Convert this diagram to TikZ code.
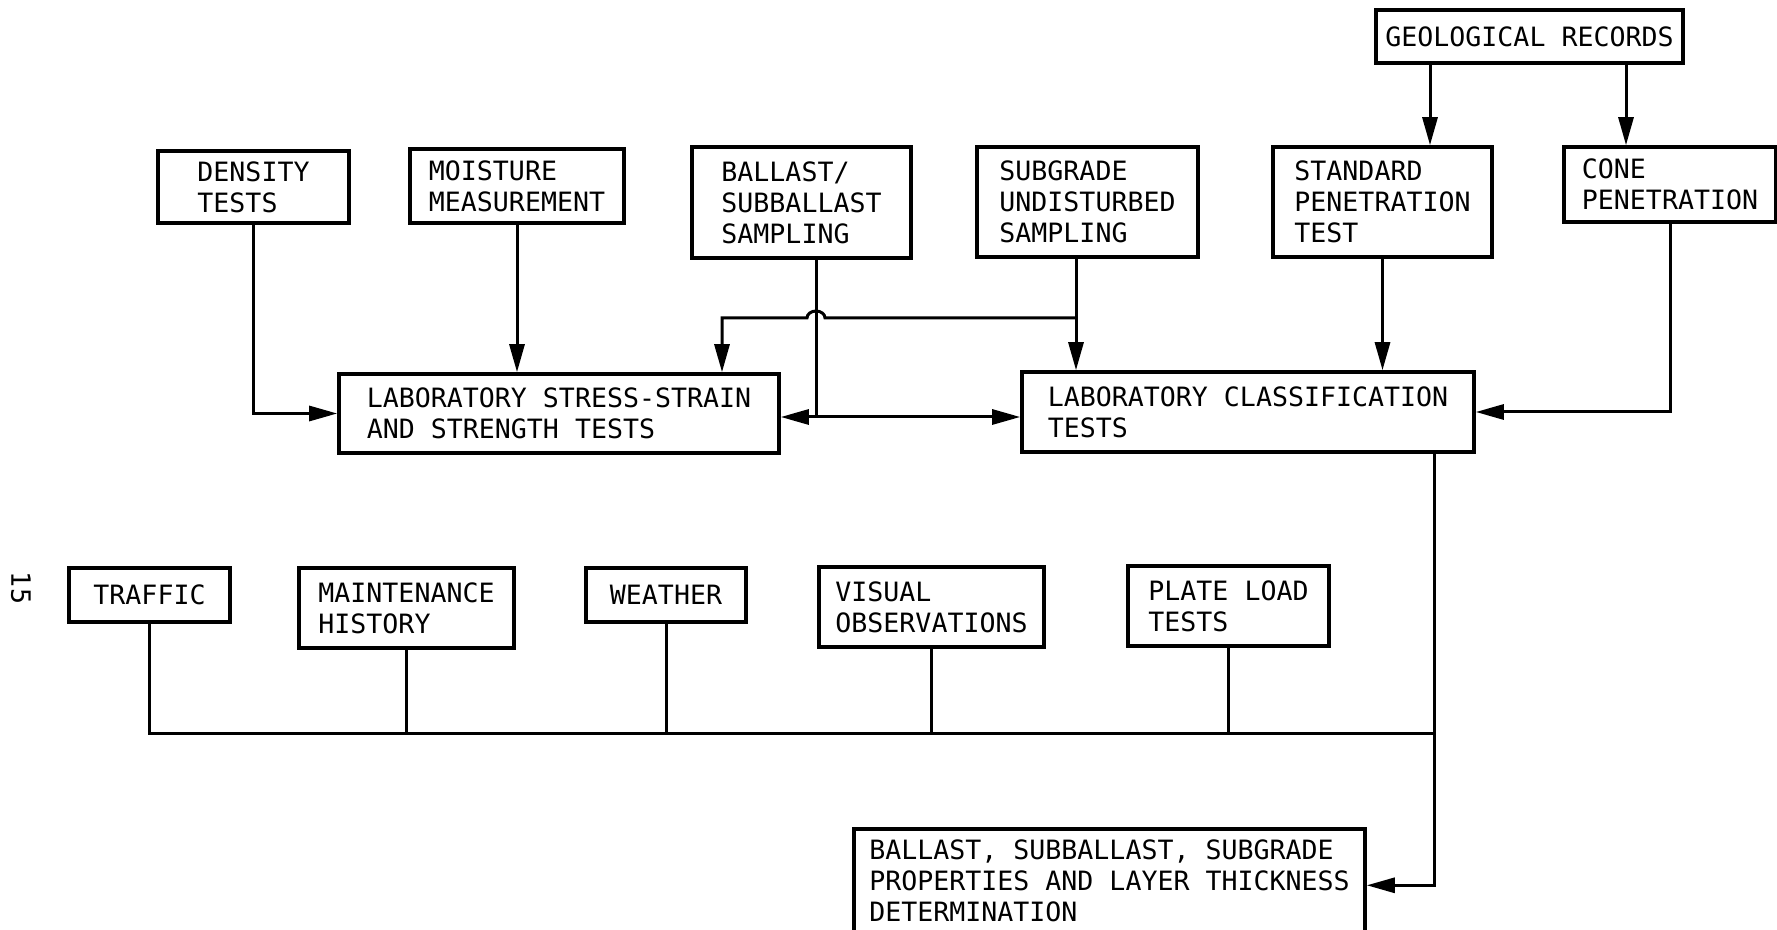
\documentclass[tikz,border=0pt]{standalone}
\usepackage{fontspec}
\setmainfont{DejaVu Sans Mono}
\usetikzlibrary{arrows.meta,calc}
\begin{document}
\begin{tikzpicture}[x=0.5pt,y=-0.5pt,
  box/.style={draw, line width=1.8pt, inner sep=2pt, align=left,
    font=\fontsize{13.3pt}{15.5pt}\selectfont},
  conn/.style={line width=1.5pt},
  arr/.style={conn, -{Triangle[length=14pt,width=7.5pt]}}]
\useasboundingbox (0,0) rectangle (1777,930);
\fill[white] (0,0) rectangle (1777,930);
\clip (0,0) rectangle (1777,930);

\node[box, minimum width=95.5pt, minimum height=36pt] (density) at (253.5,187) {DENSITY\\TESTS};
\node[box, minimum width=107pt, minimum height=37pt] (moisture) at (517,186) {MOISTURE\\MEASUREMENT};
\node[box, minimum width=109.5pt, minimum height=55.5pt] (ballast) at (801.5,202.5) {BALLAST/\\SUBBALLAST\\SAMPLING};
\node[box, minimum width=110.5pt, minimum height=55pt] (subgrade) at (1087.5,202) {SUBGRADE\\UNDISTURBED\\SAMPLING};
\node[box, minimum width=153.5pt, minimum height=26.5pt] (geo) at (1529.5,36.5) {GEOLOGICAL RECORDS};
\node[box, minimum width=109.5pt, minimum height=55pt] (standard) at (1382.5,202) {STANDARD\\PENETRATION\\TEST};
\node[box, minimum width=106pt, minimum height=37.5pt] (cone) at (1670,184.5) {CONE\\PENETRATION};
\node[box, minimum width=220pt, minimum height=39.5pt] (labss) at (559,413.5) {LABORATORY STRESS-STRAIN\\AND STRENGTH TESTS};
\node[box, minimum width=226pt, minimum height=40pt] (labcl) at (1248,412) {LABORATORY CLASSIFICATION\\TESTS};
\node[box, minimum width=80.5pt, minimum height=27pt] (traffic) at (149.5,595) {TRAFFIC};
\node[box, minimum width=107.5pt, minimum height=40pt] (maint) at (406.5,608) {MAINTENANCE\\HISTORY};
\node[box, minimum width=80pt, minimum height=27pt] (weather) at (666,595) {WEATHER};
\node[box, minimum width=112.5pt, minimum height=40pt] (visual) at (931.5,607) {VISUAL\\OBSERVATIONS};
\node[box, minimum width=100.5pt, minimum height=40pt] (plate) at (1228.5,606) {PLATE LOAD\\TESTS};
\node[box, minimum width=255.5pt, minimum height=56.5pt, text depth=5pt, anchor=north] (final) at (1109.5,827) {BALLAST, SUBBALLAST, SUBGRADE\\PROPERTIES AND LAYER THICKNESS\\DETERMINATION};
\node[font=\fontsize{13.3pt}{15.5pt}\selectfont, rotate=-90] (pg) at (21,588) {15};

\coordinate (bj) at (816,417);
\coordinate (sj) at (1076,318);
\coordinate (sl) at (722,318);
\coordinate (g1) at (1430,63);
\coordinate (g2) at (1626,63);
\coordinate (m) at (1434,733);

\draw[arr] (density.south) |- (labss.west);
\draw[arr] (moisture.south) -- (moisture.south |- labss.north);
\draw[conn] (bj |- ballast.south) -- (bj);
\draw[arr] (bj) -- (bj -| labss.east);
\draw[arr] (bj) -- (bj -| labcl.west);
\draw[conn] (sj |- subgrade.south) -- (sj);
\draw[arr] (sj) -- (sj |- labcl.north);
\draw[arr] (sj) -- ($(bj |- sj)+(9,0)$) arc[start angle=0, end angle=180, x radius=4.5pt, y radius=3.5pt] -- (sl) -- (sl |- labss.north);
\draw[arr] (g1 |- geo.south) -- (g1 |- standard.north);
\draw[arr] (g2 |- geo.south) -- (g2 |- cone.north);
\draw[arr] (standard.south) -- (standard.south |- labcl.north);
\draw[arr] (cone.south) |- (labcl.east);
\draw[arr] (m |- labcl.south) |- (final.east);
\draw[conn] (traffic.south) |- (m);
\foreach \n in {maint, weather, visual, plate}
  \draw[conn] (\n.south) -- (\n.south |- m);
\end{tikzpicture}
\end{document}
